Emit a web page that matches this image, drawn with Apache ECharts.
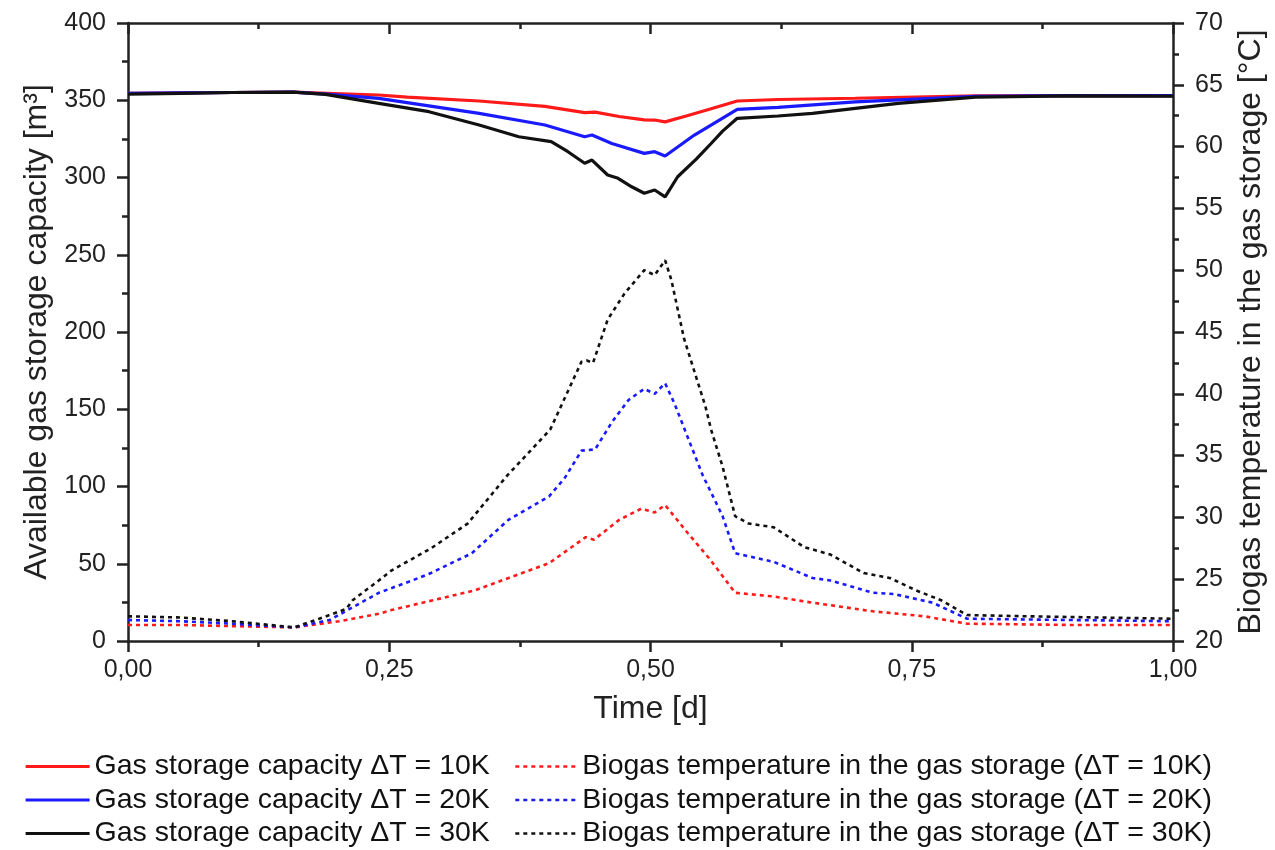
<!DOCTYPE html>
<html>
<head>
<meta charset="utf-8">
<script src="https://cdn.jsdelivr.net/npm/echarts@6/dist/echarts.min.js"></script>
<style>
html,body{margin:0;padding:0;background:#fff;}
#chart{width:1275px;height:850px;}
</style>
</head>
<body>
<div id="chart"></div>
<script>
// ---- Data (time in days) ----
const capTime10 = [0, 0.05, 0.10, 0.158, 0.19, 0.24, 0.267, 0.336, 0.399, 0.437, 0.447, 0.47, 0.494, 0.504, 0.514, 0.535, 0.558, 0.583, 0.622, 0.696, 0.811, 0.9, 1.0];
const cap10 =     [354.5, 354.8, 355, 355.2, 354.5, 353.4, 352, 349.5, 346, 342, 342.3, 339.5, 337.3, 337.2, 336, 340, 344.5, 349.5, 350.5, 351.3, 352.8, 353, 353];

const capTime20 = [0, 0.05, 0.10, 0.158, 0.19, 0.24, 0.267, 0.336, 0.399, 0.437, 0.444, 0.463, 0.494, 0.504, 0.514, 0.542, 0.583, 0.622, 0.696, 0.811, 0.9, 1.0];
const cap20 =     [354.5, 354.8, 355, 355.2, 354, 351.2, 348.5, 341.5, 334, 326.4, 327.5, 322, 315.6, 316.7, 313.9, 327.5, 344.1, 345.4, 349, 352.5, 353, 353];

const capTime30 = [0, 0.05, 0.10, 0.158, 0.189, 0.24, 0.288, 0.336, 0.374, 0.405, 0.421, 0.437, 0.444, 0.459, 0.469, 0.482, 0.494, 0.504, 0.514, 0.526, 0.544, 0.558, 0.569, 0.583, 0.622, 0.655, 0.737, 0.811, 0.9, 1.0];
const cap30 =     [354, 354.5, 355, 355.2, 353.8, 348, 342.6, 334, 326.4, 323.2, 316.7, 309.2, 311.3, 301.6, 299.5, 294, 289.8, 291.9, 287.5, 300.5, 312, 322, 330, 338.3, 339.8, 341.5, 348, 352, 352.8, 352.7];

const tempTime10 = [0, 0.05, 0.10, 0.159, 0.202, 0.24, 0.252, 0.332, 0.403, 0.438, 0.446, 0.47, 0.491, 0.504, 0.514, 0.536, 0.557, 0.581, 0.618, 0.655, 0.713, 0.762, 0.803, 0.9, 1.0];
const temp10 =     [21.3, 21.3, 21.2, 21.1, 21.6, 22.2, 22.5, 24.1, 26.3, 28.4, 28.2, 29.8, 30.7, 30.4, 31.0, 28.7, 26.6, 23.9, 23.6, 23.1, 22.4, 22.0, 21.4, 21.3, 21.3];

const tempTime20 = [0, 0.05, 0.10, 0.159, 0.193, 0.24, 0.272, 0.29, 0.329, 0.364, 0.403, 0.418, 0.434, 0.447, 0.463, 0.479, 0.494, 0.504, 0.514, 0.523, 0.536, 0.55, 0.569, 0.581, 0.618, 0.655, 0.672, 0.713, 0.733, 0.77, 0.803, 0.9, 1.0];
const temp20 =     [21.7, 21.6, 21.4, 21.1, 21.7, 23.9, 24.9, 25.5, 27.1, 29.8, 31.7, 33.2, 35.4, 35.5, 37.7, 39.5, 40.4, 40.0, 40.85, 39.2, 36.4, 33.4, 30.1, 27.1, 26.4, 25.1, 24.9, 23.9, 23.8, 23.1, 21.8, 21.7, 21.6];

const tempTime30 = [0, 0.05, 0.10, 0.159, 0.183, 0.209, 0.215, 0.24, 0.252, 0.29, 0.325, 0.363, 0.404, 0.434, 0.439, 0.445, 0.459, 0.475, 0.494, 0.504, 0.514, 0.52, 0.532, 0.545, 0.5525, 0.558, 0.569, 0.581, 0.594, 0.618, 0.647, 0.672, 0.704, 0.729, 0.754, 0.778, 0.803, 0.86, 1.0];
const temp30 =     [22.0, 21.9, 21.6, 21.1, 21.8, 22.6, 23.3, 24.9, 25.7, 27.5, 29.5, 33.4, 37.1, 42.6, 42.7, 42.5, 46.0, 48.1, 50.0, 49.6, 50.8, 49.2, 44.5, 41.0, 39.0, 37.1, 34.1, 30.1, 29.5, 29.2, 27.6, 27.0, 25.5, 25.1, 24.1, 23.3, 22.1, 22.0, 21.8];

const capNames = ['Gas storage capacity \u0394T = 10K', 'Gas storage capacity \u0394T = 20K', 'Gas storage capacity \u0394T = 30K'];
const tempNames = ['Biogas temperature in the gas storage (\u0394T = 10K)', 'Biogas temperature in the gas storage (\u0394T = 20K)', 'Biogas temperature in the gas storage (\u0394T = 30K)'];

const RED = '#ff1a1a', BLUE = '#1a1aff', BLACK = '#111111';
const FONT = 'Liberation Sans, Arial, sans-serif';
const AXC = '#222';

function pairs(xs, ys) { return xs.map((x, i) => [x, ys[i]]); }

function solid(name, xs, ys, color) {
  return { name, type: 'line', xAxisIndex: 0, yAxisIndex: 0, data: pairs(xs, ys),
    symbol: 'none', showSymbol: false, smooth: false, color,
    lineStyle: { color, width: 3.2 }, z: 3 };
}
function dashed(name, xs, ys, color) {
  return { name, type: 'line', xAxisIndex: 0, yAxisIndex: 1, data: pairs(xs, ys),
    symbol: 'none', showSymbol: false, smooth: false, color,
    lineStyle: { color, width: 2.6, type: [4, 4] }, z: 2 };
}

const chart = echarts.init(document.getElementById('chart'), null, { renderer: 'canvas' });

const tickLabel = { color: '#222', fontSize: 25, fontFamily: FONT };
const legendText = { fontSize: 28.5, fontFamily: FONT, color: '#111', lineHeight: 28 };

const option = {
  backgroundColor: '#fff',
  animation: false,
  grid: { left: 128, right: 98, top: 23, bottom: 209, containLabel: false },
  legend: [
    { orient: 'vertical', left: 24, top: 752, padding: 0, height: 97, itemWidth: 64, itemHeight: 14, itemGap: 4.5,
      itemStyle: { opacity: 0 }, lineStyle: { width: 3.2 }, textStyle: legendText,
      data: capNames, selectedMode: false },
    { orient: 'vertical', left: 514, top: 752, padding: 0, height: 97, itemWidth: 62, itemHeight: 14, itemGap: 4.5,
      itemStyle: { opacity: 0 }, lineStyle: { width: 2.6 }, textStyle: legendText,
      data: tempNames, selectedMode: false }
  ],
  xAxis: [
    { type: 'value', position: 'bottom', min: 0, max: 1, interval: 0.25,
      name: 'Time [d]', nameLocation: 'middle', nameGap: 52,
      nameTextStyle: { fontSize: 32, fontFamily: FONT, color: '#222' },
      axisLine: { show: true, onZero: false, lineStyle: { color: AXC, width: 2.5 } },
      axisTick: { show: true, inside: false, length: 11, lineStyle: { color: AXC, width: 2.5 } },
      minorTick: { show: true, splitNumber: 2, length: 6, lineStyle: { color: AXC, width: 2.5 } },
      splitLine: { show: false },
      axisLabel: Object.assign({ margin: 17, formatter: v => v.toFixed(2).replace('.', ',') }, tickLabel)
    },
    { type: 'value', position: 'top', min: 0, max: 1, interval: 0.25,
      axisLine: { show: true, onZero: false, lineStyle: { color: AXC, width: 2.5 } },
      axisTick: { show: true, inside: true, length: 11, lineStyle: { color: AXC, width: 2.5 } },
      minorTick: { show: true, splitNumber: 2, length: 6, lineStyle: { color: AXC, width: 2.5 } },
      splitLine: { show: false }, axisLabel: { show: false }
    }
  ],
  yAxis: [
    { type: 'value', position: 'left', min: 0, max: 400, interval: 50,
      name: 'Available gas storage capacity [m\u00B3]', nameLocation: 'middle', nameGap: 68, nameRotate: 90,
      nameTextStyle: { fontSize: 32, fontFamily: FONT, color: '#222' },
      axisLine: { show: true, onZero: false, lineStyle: { color: AXC, width: 2.5 } },
      axisTick: { show: true, inside: false, length: 11, lineStyle: { color: AXC, width: 2.5 } },
      minorTick: { show: true, splitNumber: 2, length: 6, lineStyle: { color: AXC, width: 2.5 } },
      splitLine: { show: false },
      axisLabel: Object.assign({ margin: 22 }, tickLabel)
    },
    { type: 'value', position: 'right', min: 20, max: 70, interval: 5,
      name: 'Biogas temperature in the gas storage [\u00B0C]', nameLocation: 'middle', nameGap: 62, nameRotate: 90,
      nameTextStyle: { fontSize: 32, fontFamily: FONT, color: '#222' },
      axisLine: { show: true, onZero: false, lineStyle: { color: AXC, width: 2.5 } },
      axisTick: { show: true, inside: false, length: 11, lineStyle: { color: AXC, width: 2.5 } },
      minorTick: { show: true, splitNumber: 2, length: 6, lineStyle: { color: AXC, width: 2.5 } },
      splitLine: { show: false },
      axisLabel: Object.assign({ margin: 22 }, tickLabel)
    }
  ],
  series: [
    solid(capNames[0], capTime10, cap10, RED),
    solid(capNames[1], capTime20, cap20, BLUE),
    solid(capNames[2], capTime30, cap30, BLACK),
    dashed(tempNames[0], tempTime10, temp10, RED),
    dashed(tempNames[1], tempTime20, temp20, BLUE),
    dashed(tempNames[2], tempTime30, temp30, BLACK)
  ]
};
chart.setOption(option);
</script>
</body>
</html>
